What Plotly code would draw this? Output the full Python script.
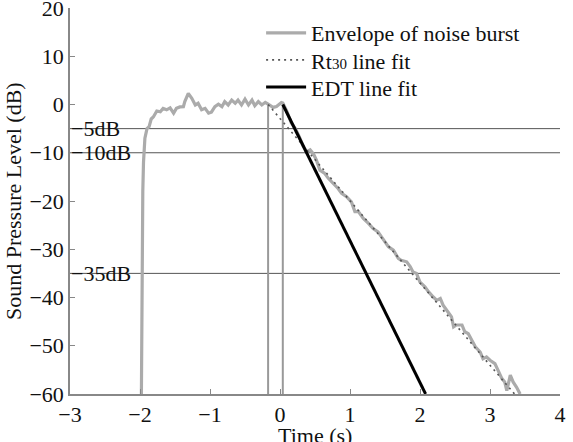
import plotly.graph_objects as go

# Envelope of noise burst
env_t = [-1.98, -1.975, -1.97, -1.96, -1.95, -1.93, -1.90, -1.87, -1.84, -1.81, -1.76, -1.71, -1.67,
         -1.62, -1.57, -1.52, -1.48, -1.43, -1.38, -1.36, -1.31, -1.26, -1.21, -1.17, -1.12,
         -1.07, -1.02, -0.98, -0.93, -0.88, -0.83, -0.79, -0.74, -0.69, -0.64, -0.60, -0.55,
         -0.50, -0.45, -0.40, -0.36, -0.31, -0.26, -0.21, -0.17, -0.10, -0.05, 0.02, 0.04,
         0.10, 0.16, 0.22, 0.28, 0.33, 0.38, 0.43, 0.48, 0.52, 0.57, 0.64, 0.69, 0.74, 0.79,
         0.83, 0.88, 0.95, 1.02, 1.07, 1.12, 1.19, 1.26, 1.33, 1.40, 1.45, 1.50, 1.55, 1.62,
         1.69, 1.73, 1.81, 1.86, 1.90, 1.95, 2.00, 2.07, 2.12, 2.19, 2.24, 2.29, 2.33, 2.40,
         2.45, 2.48, 2.52, 2.60, 2.64, 2.69, 2.74, 2.79, 2.86, 2.90, 2.95, 3.00, 3.07, 3.12,
         3.17, 3.21, 3.24, 3.29, 3.33, 3.38, 3.43]
env_db = [-60, -45, -30, -18, -12, -7, -5, -4.6, -3.0, -2.6, -1.35, -1.5, -0.8,
          -1.1, -0.7, -1.8, -0.8, -0.5, -0.45, 0.6, 2.3, 1.3, -0.1, 0.25, -1.1,
          -0.8, -1.8, -1.6, -0.45, 0.05, -0.45, 0.6, -0.1, 0.9, 0.25, 0.9, -0.1,
          1.1, -0.1, 0.9, -0.25, 0.6, -0.1, 0.45, 0.1, -0.6, -0.4, 0.4, 0.3,
          -1.5, -3.8, -5.0, -6.8, -8.6, -9.8, -9.4, -10.3, -11.5, -13.6, -14.3, -15.3, -16.0, -16.7,
          -17.4, -18.4, -19.1, -20.2, -22.2, -22.2, -23.6, -24.6, -25.7, -26.4, -27.4, -28.5, -29.5, -30.2,
          -31.9, -32.3, -32.6, -33.6, -34.7, -35.0, -36.8, -37.8, -38.8, -39.9, -40.6, -40.2, -41.6, -43.0,
          -44.0, -46.1, -45.7, -45.7, -47.1, -47.5, -48.9, -50.2, -51.3, -52.7, -52.3, -53.0, -53.7, -55.1,
          -56.8, -57.5, -59.3, -56.1, -57.5, -58.6, -60]

rt30_t = [-0.17, 3.35]
rt30_db = [0, -60]
edt_t = [0.04, 2.08]
edt_db = [0, -60]

level_db = [-5, -10, -35]
level_labels = ["\u22125dB", "\u221210dB", "\u221235dB"]
marker_t = [-0.17, 0.04]
marker_top = 0

FONT = "Liberation Serif"
FS = 22
TXT = "#111111"

fig = go.Figure()

# reference lines
for lv in level_db:
    fig.add_trace(go.Scatter(x=[-3, 4], y=[lv, lv], mode="lines",
                             line=dict(color="#555555", width=1), showlegend=False, hoverinfo="skip"))
for mt in marker_t:
    fig.add_trace(go.Scatter(x=[mt, mt], y=[-60, marker_top], mode="lines",
                             line=dict(color="#999999", width=2), showlegend=False, hoverinfo="skip"))

fig.add_trace(go.Scatter(x=env_t, y=env_db, mode="lines", name="Envelope of noise burst",
                         line=dict(color="#ababab", width=3.2), legend="legend"))
fig.add_trace(go.Scatter(x=rt30_t, y=rt30_db, mode="lines",
                         name="Rt<span style='font-size:15px'>30</span> line fit",
                         line=dict(color="#555555", width=1.6, dash="2px,4px"), legend="legend2"))
fig.add_trace(go.Scatter(x=edt_t, y=edt_db, mode="lines", name="EDT line fit",
                         line=dict(color="#000000", width=3), legend="legend3"))

for lv, lab in zip(level_db, level_labels):
    fig.add_annotation(x=-3, y=lv, text=lab, showarrow=False, xanchor="left", yanchor="middle",
                       xshift=-1, font=dict(family=FONT, size=FS, color=TXT))

# axis titles (placed like the reference)
fig.add_annotation(x=0.5, xref="paper", y=0, yref="paper", yshift=-41, text="Time (s)",
                   showarrow=False, xanchor="center", yanchor="middle",
                   font=dict(family=FONT, size=FS, color=TXT))
fig.add_annotation(x=0, xref="paper", y=0.5, yref="paper", xshift=-57, text="Sound Pressure Level (dB)",
                   textangle=-90, showarrow=False, xanchor="center", yanchor="middle",
                   font=dict(family=FONT, size=FS, color=TXT))

axis_common = dict(showgrid=False, zeroline=False, showline=True, linecolor="#888888", linewidth=1.5,
                   ticks="inside", ticklen=5, tickcolor="#888888", ticklabeloverflow="allow",
                   automargin=False,
                   tickfont=dict(family=FONT, size=FS, color=TXT))

leg_common = dict(x=0.39, xanchor="left", yanchor="middle", bgcolor="rgba(0,0,0,0)",
                  font=dict(family=FONT, size=FS, color=TXT), itemwidth=40)

fig.update_layout(
    width=573, height=442,
    margin=dict(l=70, r=13, t=8, b=48),
    paper_bgcolor="white", plot_bgcolor="white",
    xaxis=dict(range=[-3, 4], dtick=1, **axis_common),
    yaxis=dict(range=[-60, 20], dtick=10, **axis_common),
    legend=dict(y=0.935, **leg_common),
    legend2=dict(y=0.865, **leg_common),
    legend3=dict(y=0.795, **leg_common),
    showlegend=True,
)

fig.write_html("out.html")
